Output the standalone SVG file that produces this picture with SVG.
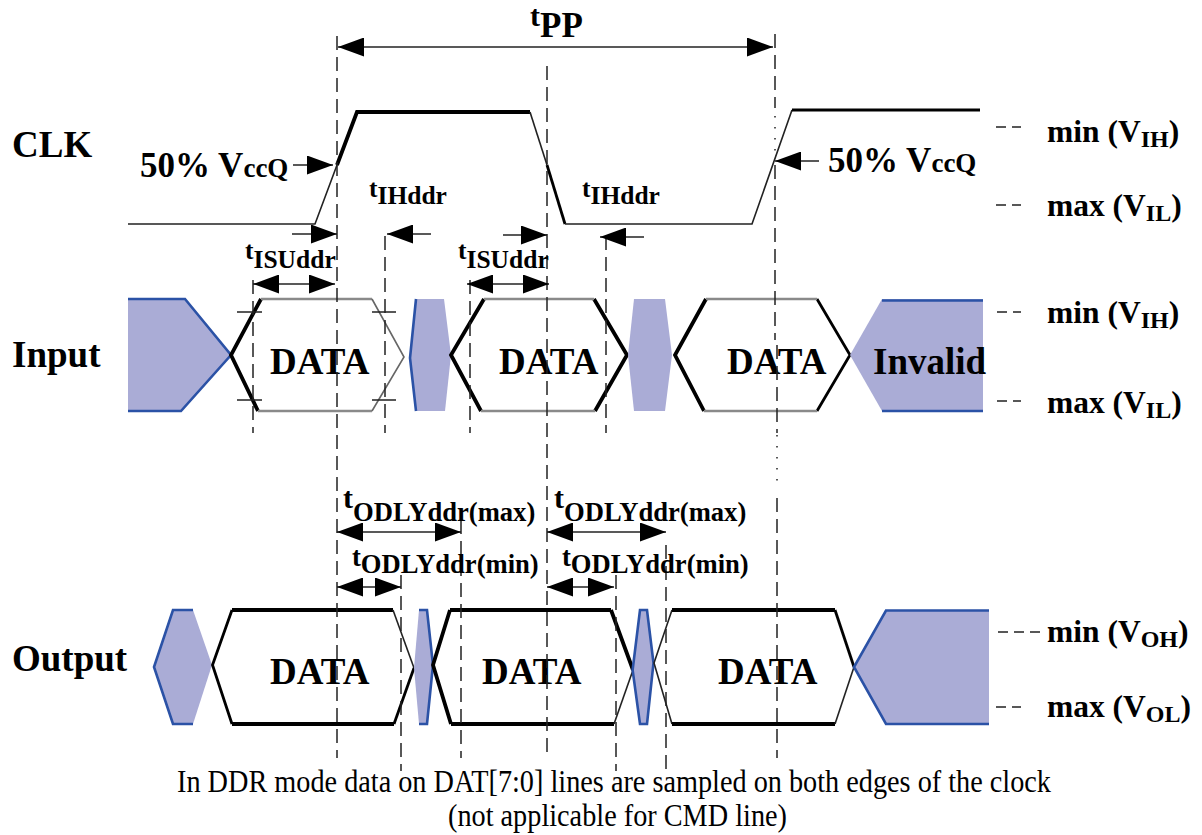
<svg xmlns="http://www.w3.org/2000/svg" width="1202" height="835" viewBox="0 0 1202 835">
<style>
text{font-family:"Liberation Serif","Times New Roman",serif;font-weight:bold;fill:#000}
.sig{font-size:37px}
.pct{font-size:35px}
.data{font-size:37px}
.lv{font-size:31.500px}
.sub{font-size:24px}
.tm{font-size:25.500px}
.od{font-size:26.600px}
.note{font-size:31px;font-weight:normal}
.blob{fill:#aaacd6;stroke:none}
.bl{fill:none;stroke:#2b52a6;stroke-width:2.6}
.k3{fill:none;stroke:#000;stroke-width:3.8}
.k2{fill:none;stroke:#000;stroke-width:2.8}
.k1{fill:none;stroke:#222;stroke-width:1.6}
.gr{fill:none;stroke:#8a8a8a;stroke-width:2.4}
.gt{fill:none;stroke:#666;stroke-width:1.6}
.dash{fill:none;stroke:#222;stroke-width:1.5;stroke-dasharray:14 7}
.dot{fill:none;stroke:#222;stroke-width:1.5;stroke-dasharray:1.500 9.500}
.tick{fill:none;stroke:#222;stroke-width:1.4}
.arr{fill:none;stroke:#222;stroke-width:1.7}
.end{marker-end:url(#ah)}
.both{marker-start:url(#ah);marker-end:url(#ah)}
</style>
<defs>
<marker id="ah" viewBox="0 0 26 19" refX="26" refY="9.500" markerWidth="26" markerHeight="19" markerUnits="userSpaceOnUse" orient="auto-start-reverse"><path d="M0 0L26 9.500L0 19Z" fill="#000"/></marker>
</defs>
<rect width="1202" height="835" fill="#fff"/>

<g id="clk">
<path class="k1" d="M128 224H315L337 165"/>
<path class="k3" d="M337 165L357 112H530"/>
<path class="k1" d="M530 112L547 165"/>
<path class="k2" d="M547 165L565 224"/>
<path class="k1" d="M565 224H752L792 110"/>
<path class="k2" d="M792 110H980"/>
<text class="sig" x="12" y="157">CLK</text>
<text class="pct" x="140" y="177">50% V<tspan font-size="27">ccQ</tspan></text>
<text class="pct" x="828" y="172">50% V<tspan font-size="27">ccQ</tspan></text>
<text class="lv" x="1047" y="142">min (V<tspan class="sub" dy="5">IH</tspan><tspan dy="-5">)</tspan></text>
<text class="lv" x="1047" y="216">max (V<tspan class="sub" dy="5">IL</tspan><tspan dy="-5">)</tspan></text>
</g>

<g id="input">
<polygon class="blob" points="128,299 185,299 231,355 181,411 128,411"/>
<path class="bl" d="M128 299H185L231 355L181 411H128"/>
<path class="k3" d="M261 299L231 355L258 411"/>
<path class="gr" d="M261 299H372M258 411H372"/>
<path class="gt" d="M372 299L404 357L372 411"/>
<text class="data" x="270" y="374">DATA</text>
<polygon class="blob" points="416,299 444,299 451,355 445,411 416,411 410,358"/>
<path class="bl" d="M416 299L410 358L416 411"/>
<path class="k3" d="M484 299L451 355L481 411"/>
<path class="k3" d="M594 299L627 355L595 411"/>
<path class="gr" d="M484 299H594M481 411H595"/>
<text class="data" x="499" y="374">DATA</text>
<polygon class="blob" points="634,299 665,299 672,355 665,411 634,411 628,355"/>
<path class="k3" d="M706 299L675 355L704 411"/>
<path class="k2" d="M817 299L850 355L817 411"/>
<path class="gr" d="M706 299H817M704 411H817"/>
<text class="data" x="727" y="374">DATA</text>
<polygon class="blob" points="882,299 983,299 983,411 882,411 850,355"/>
<path class="bl" d="M882 300.500H983M882 411H983"/>
<text class="data" x="873" y="374">Invalid</text>
<text class="sig" x="12" y="367">Input</text>
<text class="lv" x="1047" y="323">min (V<tspan class="sub" dy="5">IH</tspan><tspan dy="-5">)</tspan></text>
<text class="lv" x="1047" y="413">max (V<tspan class="sub" dy="5">IL</tspan><tspan dy="-5">)</tspan></text>
</g>

<g id="output">
<polygon class="blob" points="154,667 173,610 193,610 212,665 193,724 173,724"/>
<path class="bl" d="M193 610H173L154 667L173 724H193"/>
<path class="k2" d="M232 610L212.500 665L232 724"/>
<path class="k3" d="M232 610H393M232 724H394"/>
<path class="k1" d="M393 610L414 668"/>
<path class="k2" d="M414 668L394 724"/>
<text class="data" x="270" y="684">DATA</text>
<polygon class="blob" points="419,610 427,610 433,665 427,724 419,724 414,668"/>
<path class="bl" d="M419 610H427L433 665L427 724H419"/>
<path class="k3" d="M450 610L433 665L451 724"/>
<path class="k3" d="M450 610H611M451 724H614M611 610L633 670"/>
<path class="k1" d="M633 670L614 724"/>
<text class="data" x="482" y="684">DATA</text>
<polygon class="blob" points="640,610 647,610 653.500,663 647,724 640,724 632.600,670"/>
<path class="bl" d="M640 610H647L653.500 663L647 724H640L632.600 670Z"/>
<path class="k1" d="M672 610L654 663L672 724"/>
<path class="k3" d="M672 610H835M672 724H835"/>
<path class="k2" d="M835 610L854 667"/>
<path class="k1" d="M854 667L835 724"/>
<text class="data" x="718" y="684">DATA</text>
<polygon class="blob" points="886,610 989,610 989,724 886,724 854,667"/>
<path class="bl" d="M989 610.500H886L854 667L886 724H989"/>
<text class="sig" x="12" y="671">Output</text>
<text class="lv" x="1047" y="642">min (V<tspan class="sub" dy="5">OH</tspan><tspan dy="-5">)</tspan></text>
<text class="lv" x="1047" y="717">max (V<tspan class="sub" dy="5">OL</tspan><tspan dy="-5">)</tspan></text>
</g>

<g id="connectors">
<path class="dash" d="M337 36V758"/>
<path class="dash" d="M547 66V758"/>
<path class="dash" d="M775 34V108"/>
<path class="dot" d="M775 116V152"/>
<path class="dash" d="M775 165V340"/>
<path class="dash" d="M777 345V433"/>
<path class="dot" d="M777 435V490"/>
<path class="dash" d="M777 498V758"/>
<path class="dash" d="M253 280V433"/>
<path class="dash" d="M385 236V433"/>
<path class="dash" d="M470 280V433"/>
<path class="dash" d="M606 236V433"/>
<path class="dash" d="M401 575V771"/>
<path class="dash" d="M461 520V758"/>
<path class="dash" d="M616 575V771"/>
<path class="dash" d="M666 545V771"/>
<path class="tick" d="M237 312H262M372 312H396M237 400H262M372 400H396"/>
<path class="tick" d="M996 127H1021M996 205H1021M997 312H1021M997 401H1021M998 632H1040M996 707H1021" stroke-dasharray="10 6"/>
<path class="arr both" d="M338 47H773"/>
<path class="arr end" d="M293 165H333"/>
<path class="arr end" d="M819 161H775"/>
<path class="arr end" d="M292 234H337"/>
<path class="arr end" d="M431 234H387"/>
<path class="arr end" d="M503 235H547"/>
<path class="arr end" d="M644 237H600"/>
<path class="arr both" d="M253 284H335"/>
<path class="arr both" d="M467 284H549"/>
<path class="arr both" d="M337 532H461"/>
<path class="arr both" d="M547 532H666"/>
<path class="arr both" d="M337 587H401"/>
<path class="arr both" d="M547 587H614"/>
</g>

<g id="labels">
<text font-size="30" x="530" y="26">t<tspan font-size="35" dy="11">PP</tspan></text>
<text class="tm" x="369" y="197">t<tspan dy="7">IHddr</tspan></text>
<text class="tm" x="582" y="197">t<tspan dy="7">IHddr</tspan></text>
<text class="tm" x="245" y="259">t<tspan dy="9">ISUddr</tspan></text>
<text class="tm" x="458" y="259">t<tspan dy="9">ISUddr</tspan></text>
<text x="343" y="508" font-size="30">t<tspan class="od" dy="13">ODLYddr(max)</tspan></text>
<text x="554" y="508" font-size="30">t<tspan class="od" dy="13">ODLYddr(max)</tspan></text>
<text class="od" x="352" y="566">t<tspan dy="7">ODLYddr(min)</tspan></text>
<text class="od" x="562" y="566">t<tspan dy="7">ODLYddr(min)</tspan></text>
<text class="note" x="177" y="792" textLength="874" lengthAdjust="spacingAndGlyphs">In DDR mode data on DAT[7:0] lines are sampled on both edges of the clock</text>
<text class="note" x="448" y="826" textLength="339" lengthAdjust="spacingAndGlyphs">(not applicable for CMD line)</text>
</g>
</svg>
